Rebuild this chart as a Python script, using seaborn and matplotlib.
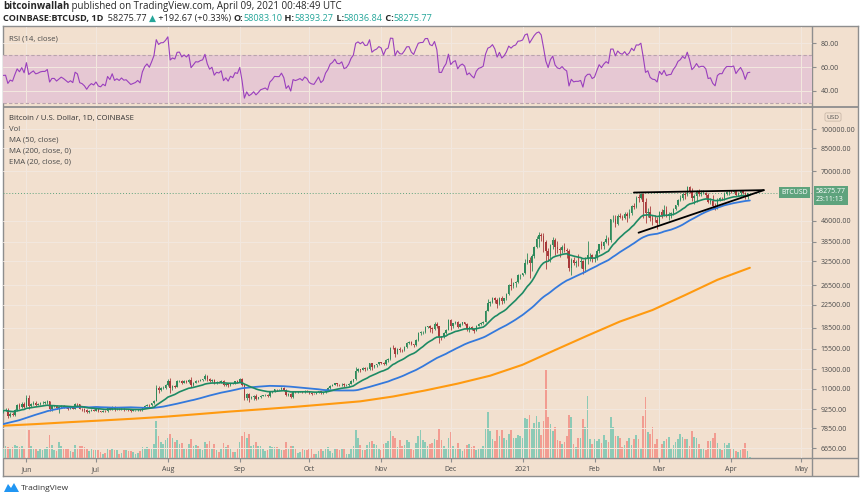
import matplotlib
matplotlib.use("Agg")
import matplotlib.pyplot as plt
import matplotlib.dates as mdates
from matplotlib.patches import Polygon
from matplotlib.ticker import NullLocator, NullFormatter
import seaborn as sns
import pandas as pd
import numpy as np

# ---------------- data ----------------
# closes before the visible window, only used to warm up MA50 / EMA20 / RSI
warmup_close = [
    6810, 6740, 6870, 6780, 7330, 7200, 7370, 7300, 6870, 6890,
    6920, 6860, 6870, 6630, 7120, 7100, 7270, 7130, 6850, 6860,
    7130, 7490, 7510, 7540, 7700, 7790, 7760, 8790, 8630, 8830,
    8980, 8900, 8890, 9030, 9160, 9990, 9810, 9540, 8720, 8560,
    8810, 9310, 9790, 9320, 9380, 9670, 9730, 9780, 9510, 9060,
]

first_day = "2020-05-22"
close = [
    9170, 9180, 8720, 8900, 8840, 9200, 9570, 9430, 9700, 9450,
    10200, 9520, 9670, 9790, 9620, 9670, 9750, 9780, 9780, 9890, 9280, 9470, 9470, 9340, 9430, 9520, 9460, 9380, 9300, 9360, 9290, 9690, 9630, 9290, 9250, 9160, 9010, 9120, 9190, 9140,
    9230, 9090, 9060, 9130, 9080, 9340, 9250, 9430, 9230, 9280, 9230, 9300, 9240, 9250, 9190, 9130, 9150, 9170, 9210, 9160, 9390, 9530, 9610, 9550, 9710, 9930, 11050, 10930, 11100, 11110, 11350,
    11800, 11070, 11230, 11190, 11750, 11770, 11600, 11760, 11690, 11880, 11390, 11570, 11780, 11770, 11860, 11910, 12290, 11960, 11750, 11860, 11530, 11680, 11650, 11760, 11340, 11470, 11320, 11540, 11480, 11710, 11680,
    11970, 11410, 10200, 10520, 10180, 10260, 10380, 10130, 10240, 10370, 10410, 10450, 10340, 10680, 10790, 10950, 10940, 10940, 11090, 10920, 10420, 10530, 10240, 10740, 10690, 10730, 10780, 10700, 10840, 10780,
    10620, 10570, 10550, 10670, 10790, 10600, 10670, 10920, 11060, 11300, 11380, 11540, 11430, 11420, 11500, 11330, 11370, 11500, 11750, 11920, 12820, 12990, 12940, 13130, 13040, 13070, 13650, 13280, 13460, 13560, 13800,
    13760, 13550, 14030, 14150, 15590, 15580, 14830, 15480, 15330, 15310, 15700, 16290, 16320, 16070, 15960, 16720, 17660, 17800, 17820, 18680, 18710, 18420, 18370, 19160, 18740, 17150, 17140, 17720, 18180, 19700,
    18770, 19210, 19420, 18650, 19150, 19360, 19170, 18320, 18550, 18250, 18040, 18800, 19170, 19270, 19440, 21350, 22800, 23110, 23830, 23470, 22720, 23820, 23250, 23720, 24690, 26490, 26280, 27040, 27360, 28860, 28970,
    29390, 32190, 33000, 31990, 34030, 36820, 39460, 40670, 40240, 38240, 35540, 34010, 37390, 39160, 36830, 36020, 35790, 36630, 35930, 35510, 30850, 33010, 32090, 32280, 32260, 32510, 30440, 33420, 34260, 34320, 33110,
    33530, 35510, 37670, 36950, 38290, 39260, 38880, 46450, 46510, 44840, 47990, 47380, 47170, 48720, 47940, 49150, 52150, 51590, 55930, 55900, 57490, 54090, 48890, 49680, 47060, 46290, 46140, 45160,
    49620, 48400, 50380, 48370, 48760, 48880, 50970, 52390, 54920, 55870, 57800, 57230, 61190, 59000, 55630, 56900, 58910, 57660, 58090, 58100, 57350, 54080, 54340, 52300, 51320, 55030, 55840, 55790, 57630, 58750, 58770,
    58720, 58970, 57090, 58200, 59130, 58060, 56000, 58083.10, 58275.77,
]

# wick length above body top / below body bottom, percent
wick_up = [
    1.0, 1.5, 1.5, 1.5, 1.5, 1.0, 1.0, 1.5, 1.0, 1.5,
    2.0, 2.5, 1.0, 1.0, 1.0, 0.5, 1.0, 1.0, 1.0, 1.0, 0.5, 1.0, 1.0, 1.0, 1.0, 1.0, 1.0, 0.5, 1.0, 0.5, 0.5, 1.0, 1.0, 0.5, 0.5, 1.0, 1.0, 0.5, 0.5, 0.5,
    0.5, 1.0, 0.5, 0.5, 0.5, 0.5, 1.0, 0.5, 0.5, 0.5, 0.5, 0.5, 0.5, 0.5, 0.5, 0.5, 0.5, 0.5, 0.5, 0.5, 0.5, 0.5, 1.0, 1.0, 0.5, 0.5, 3.0, 2.0, 1.0, 1.0, 1.0,
    1.5, 2.5, 1.0, 1.0, 1.0, 1.0, 1.0, 0.5, 1.0, 1.0, 2.0, 1.0, 0.5, 1.0, 1.0, 0.5, 1.5, 1.0, 1.0, 0.5, 1.0, 0.5, 0.5, 1.0, 1.0, 0.5, 1.0, 0.5, 0.5, 0.5, 1.0,
    1.0, 0.5, 0.5, 0.5, 1.0, 1.0, 0.5, 1.0, 0.5, 0.5, 0.5, 0.5, 0.5, 1.0, 0.5, 0.5, 0.5, 0.5, 1.0, 0.5, 0.5, 0.5, 0.5, 0.5, 0.5, 0.5, 0.5, 0.5, 0.5, 0.5,
    0.5, 0.5, 0.5, 0.5, 0.5, 0.5, 0.5, 0.5, 1.0, 0.5, 0.5, 0.5, 0.5, 0.5, 0.5, 0.5, 0.5, 0.5, 0.5, 0.5, 3.0, 1.0, 0.5, 0.5, 1.0, 1.0, 0.5, 0.5, 0.5, 0.5, 0.5,
    0.5, 0.5, 1.0, 1.0, 1.0, 2.5, 1.0, 0.5, 1.0, 1.0, 1.0, 0.5, 1.0, 1.0, 0.5, 0.5, 1.0, 1.0, 1.0, 0.5, 0.5, 1.0, 1.0, 1.0, 1.5, 0.5, 0.5, 0.5, 0.5, 1.0,
    1.0, 0.5, 0.5, 1.0, 0.5, 0.5, 0.5, 0.5, 1.0, 1.0, 0.5, 0.5, 0.5, 1.0, 0.5, 1.0, 4.0, 0.5, 1.0, 1.0, 1.5, 0.5, 1.5, 0.5, 1.0, 1.0, 7.0, 1.0, 0.5, 1.0, 1.0,
    0.5, 3.5, 5.5, 2.5, 1.5, 0.5, 2.0, 3.0, 2.0, 3.0, 2.0, 2.5, 1.0, 2.5, 1.5, 5.0, 2.0, 2.0, 3.5, 1.5, 1.5, 1.0, 2.5, 1.5, 7.5, 3.0, 1.5, 1.0, 12.5, 2.0, 1.0,
    3.5, 1.5, 0.5, 2.5, 1.0, 4.0, 1.5, 0.5, 3.5, 3.5, 1.5, 2.0, 1.5, 2.0, 1.5, 3.0, 1.0, 2.5, 1.0, 3.0, 1.5, 1.0, 3.5, 3.5, 4.5, 2.5, 4.5, 2.5,
    0.5, 2.0, 4.5, 3.0, 1.5, 1.5, 0.5, 0.5, 0.5, 2.5, 0.5, 1.5, 1.0, 1.0, 2.5, 1.5, 1.0, 2.0, 2.5, 3.0, 1.0, 1.5, 2.5, 5.0, 2.0, 1.0, 1.0, 1.0, 1.5, 1.0, 1.5,
    1.5, 1.5, 1.5, 1.0, 1.0, 0.5, 1.0, 0.5, 0.2,
]
wick_dn = [
    1.5, 1.0, 1.5, 1.0, 1.0, 1.0, 1.0, 1.5, 1.0, 1.0,
    0.5, 2.5, 1.0, 1.0, 1.0, 0.5, 1.0, 0.5, 1.0, 1.0, 2.0, 1.5, 0.5, 1.0, 4.5, 1.0, 1.0, 0.5, 1.0, 0.5, 0.5, 0.5, 1.0, 0.5, 1.5, 1.0, 1.0, 0.5, 0.5, 0.5,
    0.5, 0.5, 0.5, 0.5, 0.5, 0.5, 0.5, 0.5, 1.0, 0.5, 0.5, 0.5, 1.0, 0.5, 0.5, 1.0, 0.5, 0.5, 0.5, 0.5, 0.5, 0.5, 0.5, 1.0, 0.5, 0.5, 0.5, 2.5, 1.0, 1.0, 1.0,
    0.5, 4.0, 1.5, 1.0, 0.5, 1.0, 1.5, 0.5, 1.0, 1.0, 1.5, 1.0, 0.5, 1.0, 0.5, 0.5, 0.5, 1.5, 1.0, 1.0, 1.0, 0.5, 0.5, 0.5, 1.0, 1.0, 1.5, 0.5, 0.5, 0.5, 1.0,
    0.5, 1.5, 2.0, 2.0, 3.0, 1.0, 2.5, 1.0, 0.5, 1.0, 0.5, 0.5, 1.0, 0.5, 0.5, 0.5, 1.0, 0.5, 0.5, 1.0, 1.0, 1.0, 0.5, 0.5, 1.0, 0.5, 0.5, 0.5, 1.0, 0.5,
    1.0, 1.5, 0.5, 0.5, 0.5, 0.5, 0.5, 0.5, 0.5, 0.5, 0.5, 0.5, 1.0, 1.0, 1.0, 1.0, 0.5, 0.5, 0.5, 0.5, 0.5, 1.0, 1.5, 0.5, 1.5, 1.0, 1.0, 2.5, 1.0, 1.5, 0.5,
    1.0, 1.0, 1.0, 1.5, 0.5, 1.0, 3.0, 0.5, 1.5, 1.5, 0.5, 0.5, 1.5, 1.0, 1.5, 0.5, 1.0, 1.5, 1.5, 0.5, 1.5, 3.0, 3.5, 1.0, 1.5, 5.5, 2.5, 1.0, 1.0, 0.5,
    3.0, 1.5, 1.0, 1.0, 0.5, 1.0, 1.0, 1.5, 3.0, 1.0, 2.0, 0.5, 0.5, 1.0, 1.0, 0.5, 0.5, 2.5, 1.5, 2.5, 3.5, 1.0, 2.5, 2.0, 1.5, 1.0, 3.0, 1.5, 3.5, 1.0, 3.0,
    1.0, 1.0, 1.0, 12.0, 6.5, 1.5, 1.0, 7.0, 4.0, 8.0, 14.5, 4.0, 4.5, 3.0, 6.5, 3.0, 5.5, 2.5, 2.0, 6.0, 2.5, 6.5, 2.0, 3.5, 3.0, 5.0, 4.0, 2.0, 4.5, 4.5, 2.5,
    2.0, 1.5, 1.5, 2.0, 2.0, 1.0, 3.5, 1.0, 2.0, 2.5, 1.5, 1.0, 2.0, 1.0, 5.0, 1.5, 1.5, 1.5, 1.0, 3.5, 1.0, 13.0, 8.0, 3.0, 2.5, 4.5, 1.5, 5.0,
    1.0, 2.5, 1.5, 2.0, 4.5, 3.5, 1.0, 1.0, 1.0, 1.0, 1.5, 3.5, 1.0, 1.0, 2.0, 4.5, 5.0, 1.5, 1.5, 1.0, 2.5, 1.0, 2.0, 1.0, 2.0, 1.0, 1.0, 1.5, 1.5, 1.0, 3.0,
    1.0, 1.0, 0.5, 1.0, 2.5, 1.0, 1.0, 1.0, 0.08,
]

# daily volume, thousand BTC
volume_k = [
    9, 12, 11, 10, 11, 13, 12, 11, 12, 10,
    18, 28, 12, 10, 9, 7, 9, 8, 9, 11, 23, 13, 8, 7, 16, 12, 10, 9, 10, 7, 6, 13, 10, 12, 12, 11, 10, 7, 9, 8,
    8, 8, 6, 4, 5, 10, 8, 10, 8, 8, 4, 5, 8, 8, 7, 7, 6, 4, 5, 7, 11, 10, 11, 10, 9, 14, 37, 22, 16, 14, 18,
    20, 24, 20, 16, 18, 14, 15, 9, 9, 14, 19, 12, 13, 12, 9, 8, 16, 14, 17, 10, 14, 8, 6, 9, 15, 11, 13, 10, 6, 6, 10,
    16, 22, 26, 20, 24, 12, 13, 16, 12, 12, 9, 7, 8, 12, 11, 11, 11, 9, 8, 8, 16, 10, 12, 12, 10, 5, 6, 10, 8, 8,
    10, 10, 4, 4, 7, 9, 7, 10, 11, 7, 5, 10, 9, 8, 9, 10, 4, 4, 9, 12, 28, 20, 13, 8, 8, 13, 16, 17, 14, 13, 10,
    8, 14, 15, 17, 27, 22, 20, 11, 18, 12, 13, 18, 16, 9, 8, 15, 22, 28, 18, 16, 12, 14, 15, 19, 18, 29, 18, 12, 10, 20,
    26, 12, 10, 15, 9, 7, 10, 13, 14, 11, 12, 8, 9, 10, 12, 30, 46, 27, 19, 17, 28, 22, 28, 20, 18, 24, 28, 20, 20, 23, 22,
    20, 40, 39, 43, 30, 35, 42, 36, 23, 37, 88, 41, 34, 27, 31, 18, 17, 14, 16, 22, 43, 41, 14, 11, 20, 20, 39, 31, 62, 19, 14,
    19, 17, 19, 15, 23, 18, 16, 41, 31, 22, 22, 20, 11, 13, 17, 20, 13, 19, 23, 19, 9, 42, 61, 26, 24, 31, 14, 19,
    21, 14, 17, 19, 21, 10, 13, 16, 19, 24, 21, 19, 19, 12, 27, 21, 20, 14, 9, 10, 8, 17, 17, 20, 25, 15, 10, 8, 15, 13, 15,
    9, 9, 7, 6, 8, 9, 15, 7, 1,
]

# MA (200) line, sampled from the chart
ma200_dates = ["2020-05-22", "2020-06-05", "2020-06-19", "2020-07-03", "2020-07-17", "2020-07-31",
               "2020-08-14", "2020-08-28", "2020-09-11", "2020-09-25", "2020-10-09", "2020-10-23",
               "2020-11-06", "2020-11-20", "2020-12-04", "2020-12-18", "2021-01-01", "2021-01-15",
               "2021-01-29", "2021-02-12", "2021-02-26", "2021-03-12", "2021-03-26", "2021-04-09"]
ma200_vals = [8040, 8150, 8280, 8400, 8530, 8680, 8870, 9070, 9250, 9440, 9660, 9890,
              10300, 10850, 11500, 12300, 13500, 15300, 17300, 19500, 21500, 24400, 27800, 30800]

# hand-drawn triangle
tri_top_dates = ["2021-02-18", "2021-04-15"]
tri_top_price = [58400, 59600]
tri_low_dates = ["2021-02-20", "2021-04-15"]
tri_low_price = [41500, 59600]

price_ticks = [100000, 85000, 70000, 46000, 38500, 32500, 26500, 22500, 18500, 15500, 13000, 11000, 9250, 7850, 6650]
rsi_ticks = [80, 60, 40]
month_starts = ["2020-06-01", "2020-07-01", "2020-08-01", "2020-09-01", "2020-10-01", "2020-11-01",
                "2020-12-01", "2021-01-01", "2021-02-01", "2021-03-01", "2021-04-01", "2021-05-01"]
month_labels = ["Jun", "Jul", "Aug", "Sep", "Oct", "Nov", "Dec", "2021", "Feb", "Mar", "Apr", "May"]

# ---------------- derived series ----------------
full = pd.Series(warmup_close + close, dtype=float)
ema20 = full.ewm(span=20, adjust=False).mean()
ma50 = full.rolling(50).mean()
delta = full.diff()
gain = delta.clip(lower=0).ewm(alpha=1 / 14, adjust=False).mean()
loss = (-delta.clip(upper=0)).ewm(alpha=1 / 14, adjust=False).mean()
rsi = 100 - 100 / (1 + gain / loss)

n = len(close)
dates = pd.date_range(first_day, periods=n, freq="D")
df = pd.DataFrame({
    "date": dates,
    "close": close,
    "open": full.shift(1).iloc[-n:].values,
    "ema20": ema20.iloc[-n:].values,
    "ma50": ma50.iloc[-n:].values,
    "rsi": rsi.iloc[-n:].values,
    "vol": volume_k,
})
df["top"] = df[["open", "close"]].max(axis=1)
df["bot"] = df[["open", "close"]].min(axis=1)
df["high"] = df["top"] * (1 + np.array(wick_up) / 100)
df["low"] = df["bot"] * (1 - np.array(wick_dn) / 100)
df["up"] = df["close"] >= df["open"]

# ---------------- style ----------------
sns.set_style("white")
plt.rcParams["font.family"] = ["Open Sans", "DejaVu Sans"]

BG = "#f2e0cf"
GRID = "#f3e8df"
FRAME = "#8e8e8e"
TXT = "#4a4a4a"
UP, DOWN = "#2f8a5b", "#a8393a"
VOL_UP, VOL_DOWN = "#8ccab6", "#f29c91"
TEAL = "#26a69a"
GREEN_LBL = "#5ea37d"

W, H = 860, 498
fig = plt.figure(figsize=(W / 100, H / 100), dpi=100, facecolor="white")


def rect(x0, y0, x1, y1):
    return [x0 / W, 1 - y1 / H, (x1 - x0) / W, (y1 - y0) / H]


frame = fig.add_axes(rect(3, 26, 858, 476))
frame.set_facecolor(BG)
frame.set_xlim(3, 858)
frame.set_ylim(476, 26)
frame.set_xticks([])
frame.set_yticks([])
for s in frame.spines.values():
    s.set_color(FRAME)
    s.set_linewidth(1.0)
frame.axvline(812, color=FRAME, lw=1.0)
frame.axhline(107, color=FRAME, lw=1.3)
frame.axhline(458, color=FRAME, lw=1.0)

ax_vol = fig.add_axes(rect(3, 108, 812, 458))
ax = fig.add_axes(rect(3, 108, 812, 458), sharex=ax_vol)
ax_rsi = fig.add_axes(rect(3, 27, 812, 106), sharex=ax_vol)
for a in (ax_vol, ax, ax_rsi):
    a.patch.set_visible(False)
    for s in a.spines.values():
        s.set_visible(False)

x0 = mdates.date2num(pd.Timestamp("2020-06-01"))
ax.set_xlim(x0 - 10.1, x0 + 338.8)

# volume
ax_vol.bar(df["date"], df["vol"], width=0.72,
           color=np.where(df["up"], VOL_UP, VOL_DOWN), linewidth=0)
ax_vol.set_ylim(0, 350)
ax_vol.tick_params(left=False, bottom=False, labelleft=False, labelbottom=False)
ax_vol.set_yticks([])

# price pane
ax.set_yscale("log")
ax.set_ylim(6108, 119860)
ax.grid(True, color=GRID, lw=0.7)
ax.set_axisbelow(True)
ax.vlines(df["date"], df["low"], df["high"], colors=np.where(df["up"], UP, DOWN), lw=0.6, zorder=3)
ax.bar(df["date"], np.maximum(df["top"] - df["bot"], df["close"] * 0.002), bottom=df["bot"],
       width=0.62, color=np.where(df["up"], UP, DOWN), linewidth=0, zorder=3)

sns.lineplot(x=pd.to_datetime(ma200_dates), y=ma200_vals, ax=ax, color="#ff9a10", lw=1.5, legend=False, zorder=4)
sns.lineplot(data=df, x="date", y="ma50", ax=ax, color="#3479dc", lw=1.3, legend=False, zorder=4)
sns.lineplot(data=df, x="date", y="ema20", ax=ax, color="#1d8a64", lw=1.2, legend=False, zorder=4)

ax.plot(pd.to_datetime(tri_top_dates), tri_top_price, color="black", lw=1.3, zorder=5)
ax.plot(pd.to_datetime(tri_low_dates), tri_low_price, color="black", lw=1.3, zorder=5)

last = close[-1]
ax.axhline(last, color=GREEN_LBL, lw=0.7, ls=(0, (1, 2)), zorder=2)

ax.set_yticks(price_ticks)
ax.set_yticklabels([f"{v:.2f}" for v in price_ticks])
ax.yaxis.set_minor_locator(NullLocator())
ax.yaxis.set_minor_formatter(NullFormatter())
ax.yaxis.tick_right()
ax.tick_params(axis="y", which="major", right=True, left=False, direction="out", length=3,
               color=FRAME, labelsize=5, labelcolor=TXT, pad=3)
ax.set_xticks(mdates.date2num(pd.to_datetime(month_starts)))
ax.set_xticklabels(month_labels)
ax.tick_params(axis="x", which="major", bottom=True, direction="out", length=3,
               color=FRAME, labelsize=5, labelcolor=TXT, pad=3)
ax.set_xlabel("")
ax.set_ylabel("")

ax.annotate("BTCUSD", xy=(1, last), xycoords=("axes fraction", "data"), xytext=(-4, 0),
            textcoords="offset pixels", ha="right", va="center", color="white", fontsize=5,
            bbox=dict(boxstyle="square,pad=0.3", fc=GREEN_LBL, ec="none"), zorder=6)
ax.annotate("58275.77\n23:11:13", xy=(1, last), xycoords=("axes fraction", "data"), xytext=(4, 5),
            textcoords="offset pixels", ha="left", va="top", color="white", fontsize=5,
            linespacing=1.2, annotation_clip=False,
            bbox=dict(boxstyle="square,pad=0.3", fc=GREEN_LBL, ec="none"), zorder=6)

# RSI pane
ax_rsi.axhspan(30, 70, color="#e6c8d3", lw=0, zorder=0)
ax_rsi.grid(True, color=GRID, lw=0.7)
ax_rsi.set_axisbelow(True)
ax_rsi.axhline(70, color="#b9a3ad", lw=0.8, ls=(0, (3, 2)))
ax_rsi.axhline(30, color="#b9a3ad", lw=0.8, ls=(0, (3, 2)))
sns.lineplot(data=df, x="date", y="rsi", ax=ax_rsi, color="#9a3fbd", lw=0.8, legend=False)
ax_rsi.set_ylim(27.1, 93.8)
ax_rsi.set_yticks(rsi_ticks)
ax_rsi.set_yticklabels([f"{v:.2f}" for v in rsi_ticks])
ax_rsi.yaxis.tick_right()
ax_rsi.tick_params(axis="y", right=True, left=False, direction="out", length=3,
                   color=FRAME, labelsize=5, labelcolor=TXT, pad=3)
ax_rsi.tick_params(axis="x", bottom=False, labelbottom=False)
ax_rsi.set_xlabel("")
ax_rsi.set_ylabel("")

# ---------------- overlay texts ----------------
top = fig.add_axes([0, 0, 1, 1], zorder=10)
top.set_xlim(0, W)
top.set_ylim(H, 0)
top.axis("off")


def chain(x, y, parts, size):
    t = None
    for s, color, weight in parts:
        if t is None:
            t = top.annotate(s, xy=(x, y), xycoords="data", ha="left", va="bottom",
                             color=color, weight=weight, fontsize=size)
        else:
            t = top.annotate(s, xy=(1, 0), xycoords=t, ha="left", va="bottom",
                             color=color, weight=weight, fontsize=size)


DARK = "#262626"
chain(3, 12, [("bitcoinwallah", DARK, "bold"),
              (" published on TradingView.com, April 09, 2021 00:48:49 UTC", DARK, "normal")], 7.0)
chain(3, 23, [("COINBASE:BTCUSD, 1D", DARK, "bold"), ("  58275.77 ", DARK, "normal"),
              ("▲", TEAL, "normal"), (" +192.67 (+0.33%) ", DARK, "normal"),
              ("O:", DARK, "bold"), ("58083.10", TEAL, "normal"), (" H:", DARK, "bold"),
              ("58393.27", TEAL, "normal"), (" L:", DARK, "bold"), ("58036.84", TEAL, "normal"),
              (" C:", DARK, "bold"), ("58275.77", TEAL, "normal")], 6.6)

top.text(9, 39, "RSI (14, close)", fontsize=5.6, color=TXT, va="center")
legend_lines = ["Bitcoin / U.S. Dollar, 1D, COINBASE", "Vol", "MA (50, close)",
                "MA (200, close, 0)", "EMA (20, close, 0)"]
for i, s in enumerate(legend_lines):
    top.text(9, 118 + 11 * i, s, fontsize=5.6, color="#333333" if i == 0 else TXT, va="center")

top.text(833, 117, "USD", fontsize=4.6, color=TXT, ha="center", va="center",
         bbox=dict(boxstyle="round,pad=0.25", fc=BG, ec="#c9b8a8", lw=0.6))

# TradingView logo
top.add_patch(Polygon([(4, 492), (8, 484), (11, 488), (14, 483), (19, 492)], closed=True,
                      fc="#2196f3", ec="none"))
top.text(21, 488, "TradingView", fontsize=6, color="#333333", va="center")

fig.savefig("out.png", dpi=100, facecolor="white")
